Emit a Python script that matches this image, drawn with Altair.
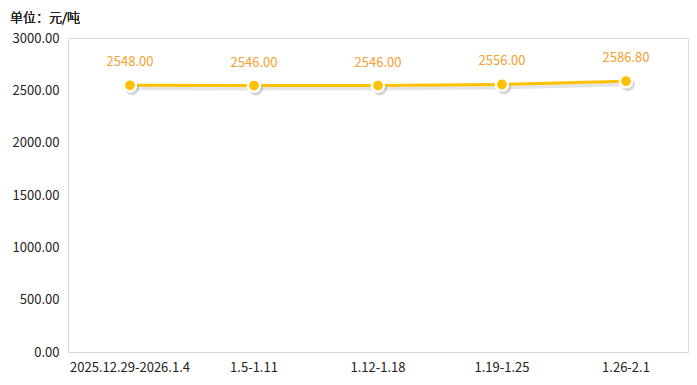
import altair as alt
import pandas as pd

categories = ["2025.12.29-2026.1.4", "1.5-1.11", "1.12-1.18", "1.19-1.25", "1.26-2.1"]
values = [2548.00, 2546.00, 2546.00, 2556.00, 2586.80]
labels = ["2548.00", "2546.00", "2546.00", "2556.00", "2586.80"]

df = pd.DataFrame({"cat": categories, "val": values, "lab": labels})

FONT = "Noto Sans CJK SC"
LINE = "#FFC000"
LABEL = "#F5A031"

x = alt.X("cat:N", sort=categories, title=None,
          scale=alt.Scale(type="band", paddingInner=0, paddingOuter=0),
          axis=alt.Axis(labelAngle=0, ticks=False, domainColor="#d9d9d9", labelFontSize=13,
                        labelColor="#222222", labelFont=FONT, labelPadding=9, grid=False))
y = alt.Y("val:Q", title=None,
          scale=alt.Scale(domain=[0, 3000], nice=False),
          axis=alt.Axis(values=[0, 500, 1000, 1500, 2000, 2500, 3000], format=".2f", ticks=False,
                        grid=False, domainColor="#d9d9d9", labelFontSize=13, labelColor="#222222",
                        labelFont=FONT, labelPadding=9))

base = alt.Chart(df).encode(x=x, y=y)

shadow_line = base.mark_line(color="#000000", opacity=0.10, strokeWidth=4, yOffset=3, xOffset=1)
line = base.mark_line(color=LINE, strokeWidth=3)
shadow_pt = base.mark_point(filled=True, color="#000000", opacity=0.16, size=190, shape="circle", yOffset=3, xOffset=2)
pts = base.mark_point(filled=True, fill=LINE, stroke="white", strokeWidth=2.5, size=150, shape="circle", opacity=1)
txt = base.mark_text(dy=-23, color=LABEL, fontSize=13, font=FONT).encode(text="lab:N")

title = alt.Chart(df).mark_text(text="单位：元/吨", align="left", baseline="middle", fontSize=13,
                                font=FONT, fontWeight=300, color="#222222").encode(x=alt.value(-58), y=alt.value(-20))

chart = alt.layer(shadow_line, line, shadow_pt, pts, txt, title).properties(
    width=620, height=314,
    autosize=alt.AutoSizeParams(type="none"),
    padding={"left": 68, "top": 38, "right": 9, "bottom": 33},
).configure_view(stroke=None).configure(background="white")

chart.save("out.html", embed_options={"renderer": "svg", "actions": False})
